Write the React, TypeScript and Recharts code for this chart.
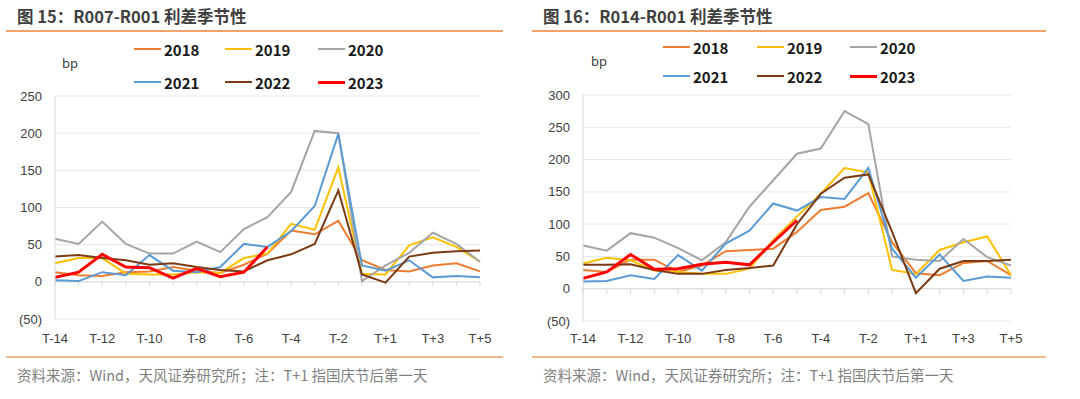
import { LineChart, Line, XAxis, YAxis, CartesianGrid, ReferenceLine } from 'recharts';

// x-axis categories (T-1 is followed directly by T+1)
const categories = [
  'T-14', 'T-13', 'T-12', 'T-11', 'T-10', 'T-9', 'T-8', 'T-7', 'T-6', 'T-5',
  'T-4', 'T-3', 'T-2', 'T-1', 'T+1', 'T+2', 'T+3', 'T+4', 'T+5',
];
const years = ['2018', '2019', '2020', '2021', '2022', '2023'];
const colors = ['#ED7D31', '#FFC000', '#A5A5A5', '#5B9BD5', '#7A3B14', '#FF0000'];

// 图15: R007-R001 (bp)
const r007_2018 = [13, 9, 8, 13, 14, 20, 15, 12, 23, 38, 69, 64, 82, 29, 16, 14, 22, 25, 14];
const r007_2019 = [25, 32, 32, 11, 10, 10, 13, 12, 32, 38, 78, 70, 154, 11, 10, 49, 60, 47, 27];
const r007_2020 = [58, 51, 81, 51, 38, 38, 54, 40, 71, 87, 121, 203, 200, 1, 22, 39, 66, 51, 27];
const r007_2021 = [2, 1, 13, 9, 36, 15, 13, 20, 51, 47, 68, 102, 199, 22, 15, 29, 6, 8, 6];
const r007_2022 = [34, 36, 32, 29, 23, 25, 20, 16, 14, 29, 37, 51, 123, 10, -1, 34, 39, 41, 42];
const r007_2023 = [6, 13, 37, 20, 19, 5, 18, 7, 13, 47];

// 图16: R014-R001 (bp)
const r014_2018 = [29, 26, 45, 45, 26, 36, 58, 60, 62, 88, 122, 127, 148, 72, 24, 21, 40, 43, 21];
const r014_2019 = [39, 48, 44, 28, 26, 23, 23, 31, 75, 112, 147, 187, 180, 29, 23, 60, 72, 81, 21];
const r014_2020 = [67, 59, 86, 79, 63, 44, 72, 127, 168, 209, 217, 275, 255, 50, 45, 43, 77, 49, 36];
const r014_2021 = [11, 12, 21, 15, 52, 28, 70, 90, 132, 121, 142, 139, 187, 62, 17, 53, 12, 19, 17];
const r014_2022 = [37, 37, 38, 29, 23, 23, 29, 32, 36, 100, 147, 172, 177, 88, -7, 31, 43, 43, 45];
const r014_2023 = [16, 26, 53, 30, 31, 38, 41, 37, 72, 106];

const r007Ticks = [-50, 0, 50, 100, 150, 200, 250];
const r014Ticks = [-50, 0, 50, 100, 150, 200, 250, 300];

const buildRows = (series: number[][]) =>
  categories.map((name, i) => {
    const row: Record<string, string | number | undefined> = { name };
    years.forEach((y, k) => {
      row['y' + y] = series[k][i];
    });
    return row;
  });

const r007Data = buildRows([r007_2018, r007_2019, r007_2020, r007_2021, r007_2022, r007_2023]);
const r014Data = buildRows([r014_2018, r014_2019, r014_2020, r014_2021, r014_2022, r014_2023]);

const fmt = (v: number) => (v < 0 ? `(${Math.abs(v)})` : `${v}`);

const tickStyle = { fontSize: 13, fill: '#404040', fontFamily: '"Liberation Sans", Arial, sans-serif' };

interface PanelProps {
  left: number;
  title: string;
  data: Record<string, string | number | undefined>[];
  ticks: number[];
  margin: { top: number; right: number; left: number; bottom: number };
  tickLen: number;
  legendTop: number[];
  legendX: number[];
  bpTop: number;
  bpLeft: number;
  xTickMargin: number;
  ruleLeft: number;
  ruleWidth: number;
  textLeft: number;
}

const Panel = ({
  left, title, data, ticks, margin, tickLen, legendTop, legendX, bpTop, bpLeft, xTickMargin,
  ruleLeft, ruleWidth, textLeft,
}: PanelProps) => (
  <div style={{ position: 'absolute', left, top: 0, width: 550, height: 399 }}>
    <div
      style={{
        position: 'absolute', left: textLeft, top: 5, fontSize: 16.5, fontWeight: 700, color: '#3F3F3F',
        fontFamily: '"Noto Sans CJK SC", sans-serif', whiteSpace: 'nowrap', lineHeight: '22px',
      }}
    >
      {title}
    </div>
    <div style={{ position: 'absolute', left: ruleLeft, top: 30, width: ruleWidth, height: 1.5, background: '#F0A46C' }} />
    <div
      style={{
        position: 'absolute', left: bpLeft, top: bpTop, fontSize: 13, color: '#404040',
        fontFamily: '"Noto Sans", sans-serif',
      }}
    >
      bp
    </div>
    {years.map((y, k) => (
      <div
        key={y}
        style={{
          position: 'absolute', left: legendX[k % 3], top: legendTop[Math.floor(k / 3)] - 11,
          height: 22, display: 'flex', alignItems: 'center', whiteSpace: 'nowrap',
        }}
      >
        <span style={{ display: 'inline-block', width: 27, height: y === '2023' ? 3 : 2, background: colors[k] }} />
        <span
          style={{
            marginLeft: 3, fontSize: 15, fontWeight: 700, color: '#1a1a1a',
            fontFamily: '"Noto Sans CJK SC", sans-serif',
          }}
        >
          {y}
        </span>
      </div>
    ))}
    <div style={{ position: 'absolute', left: 0, top: 0 }}>
      <LineChart width={540} height={360} data={data} margin={margin}>
        <CartesianGrid vertical={false} stroke="#E8E8E8" />
        <XAxis
          dataKey="name"
          interval={1}
          tickLine={false}
          axisLine={false}
          tickSize={0}
          tickMargin={xTickMargin}
          height={30}
          tick={tickStyle}
        />
        <YAxis
          type="number"
          domain={[ticks[0], ticks[ticks.length - 1]]}
          ticks={ticks}
          tickFormatter={fmt}
          width={45}
          tickLine={false}
          tickSize={0}
          tickMargin={13}
          axisLine={{ stroke: '#D9D9D9' }}
          tick={tickStyle}
        />
        <ReferenceLine y={0} stroke="#D9D9D9" />
        {categories.map((c) => (
          <ReferenceLine
            key={c}
            segment={[{ x: c, y: 0 }, { x: c, y: -tickLen }]}
            stroke="#D9D9D9"
          />
        ))}
        {years.map((y, k) => (
          <Line
            key={y}
            type="linear"
            dataKey={'y' + y}
            stroke={colors[k]}
            strokeWidth={y === '2023' ? 3 : 2}
            dot={false}
            isAnimationActive={false}
          />
        ))}
      </LineChart>
    </div>
    <div style={{ position: 'absolute', left: ruleLeft, top: 356, width: ruleWidth, height: 1.5, background: '#F4B88E' }} />
    <div
      style={{
        position: 'absolute', left: textLeft, top: 365, fontSize: 14.5, color: '#7F7F7F',
        fontFamily: '"Noto Sans CJK SC", sans-serif', whiteSpace: 'nowrap', lineHeight: '20px',
      }}
    >
      资料来源：Wind，天风证券研究所；注：T+1 指国庆节后第一天
    </div>
  </div>
);

export default function App() {
  return (
    <div style={{ position: 'absolute', left: 0, top: 0, width: 1080, height: 399, background: '#fff', overflow: 'hidden' }}>
      <Panel
        left={0}
        title="图 15：R007-R001 利差季节性"
        data={r007Data}
        ticks={r007Ticks}
        margin={{ top: 96, right: 60, left: 10, bottom: 11 }}
        tickLen={6}
        legendTop={[49, 82]}
        legendX={[134, 225, 318]}
        bpTop={54}
        bpLeft={62}
        xTickMargin={15}
        ruleLeft={6}
        ruleWidth={497}
        textLeft={17}
      />
      <Panel
        left={530}
        title="图 16：R014-R001 利差季节性"
        data={r014Data}
        ticks={r014Ticks}
        margin={{ top: 95, right: 59, left: 8, bottom: 9 }}
        tickLen={8}
        legendTop={[47, 76]}
        legendX={[133, 227, 320]}
        bpTop={52}
        bpLeft={61}
        xTickMargin={13}
        ruleLeft={2}
        ruleWidth={514}
        textLeft={13}
      />
    </div>
  );
}
